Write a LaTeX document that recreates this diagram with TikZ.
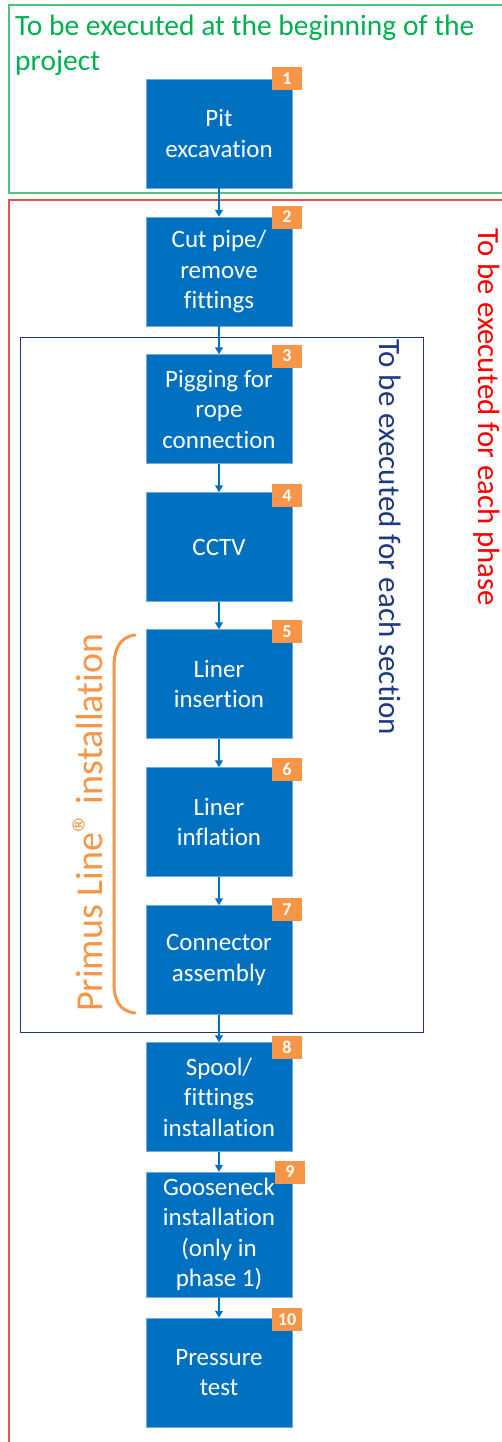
\documentclass[tikz,border=0pt]{standalone}
\usepackage{fontspec}
\setmainfont{Carlito}[Ligatures=NoCommon]
\usetikzlibrary{arrows.meta,positioning}
\definecolor{boxblue}{RGB}{0,112,192}
\definecolor{badgeor}{RGB}{247,150,70}
\definecolor{grn}{RGB}{0,176,80}
\definecolor{grnline}{RGB}{80,196,120}
\definecolor{redline}{RGB}{240,80,80}
\definecolor{navy}{RGB}{31,56,130}
\definecolor{orng}{RGB}{247,150,70}
\tikzset{
  stepbox/.style={fill=boxblue, draw={rgb,255:red,110;green,170;blue,225}, line width=0.5pt,
    minimum width=146pt, minimum height=109pt, inner sep=0pt, text=white, align=center,
    font=\fontsize{25}{30.5}\selectfont},
  badge/.style={fill=badgeor, minimum width=30pt, minimum height=23pt, inner sep=0pt,
    text=white, font=\fontsize{18}{18}\selectfont\bfseries},
  flow/.style={draw=boxblue, line width=1.3pt, -{Triangle[width=8pt,length=7pt]}},
}
\begin{document}
\begin{tikzpicture}[x=1pt,y=-1pt]
\useasboundingbox (0,0) rectangle (502,1442);
\clip (0,0) rectangle (502,1442);
% frames
\draw[grnline, line width=1.2pt] (9,5) rectangle (530,193);
\draw[redline, line width=1.2pt] (9,200) rectangle (530,1470);
\draw[navy, line width=1pt] (20,337) rectangle (423,1032);
% titles
\node[anchor=base west, inner sep=0pt, text=grn, font=\fontsize{29.5}{35}\selectfont] (t1) at (15,36) {To be executed at the beginning of the};
\node[anchor=base west, inner sep=0pt, text=grn, font=\fontsize{29.5}{35}\selectfont] (t2) at (15,71) {project};
\node[anchor=base west, inner sep=0pt, rotate=-90, text=red, font=\fontsize{30.8}{36}\selectfont] (tr) at (478,228) {To be executed for each phase};
\node[anchor=base west, inner sep=0pt, rotate=-90, text=navy, font=\fontsize{31}{36}\selectfont] (tb) at (379,339) {To be executed for each section};
\node[anchor=base west, inner sep=0pt, rotate=90, text=orng, font=\fontsize{38}{44}\selectfont] (to) at (102,1012) {Primus Line\raisebox{0.05em}{\fontsize{40}{40}\selectfont ®} installation};
% brace
\draw[orng, line width=3pt, line cap=round] (135,635) .. controls (119,637) and (114,650) .. (114,668) -- (114,982) .. controls (114,1000) and (119,1011) .. (135,1013);
% steps
\node[stepbox] (s1) at (219,133.5) {Pit\\excavation};
\node[stepbox] (s2) at (219,271.5) {Cut pipe/\\remove\\fittings};
\node[stepbox] (s3) at (219,409) {Pigging for\\rope\\connection};
\node[stepbox] (s4) at (219,547) {CCTV};
\node[stepbox] (s5) at (219,684) {Liner\\insertion};
\node[stepbox] (s6) at (219,822) {Liner\\inflation};
\node[stepbox] (s7) at (219,960) {Connector\\assembly};
\node[stepbox] (s8) at (219,1097) {Spool/\\fittings\\installation};
\node[stepbox, minimum height=125pt] (s9) at (219,1234.5) {Gooseneck\\installation\\(only in\\phase 1)};
\node[stepbox] (s10) at (219,1372.5) {Pressure\\test};
% badges
\node[badge] (b1) at (287,78.5) {1};
\node[badge] (b2) at (287,217) {2};
\node[badge] (b3) at (287,356) {3};
\node[badge] (b4) at (287,495.5) {4};
\node[badge] (b5) at (287,631.5) {5};
\node[badge] (b6) at (287,769.5) {6};
\node[badge] (b7) at (287,909.5) {7};
\node[badge] (b8) at (287,1047) {8};
\node[badge] (b9) at (290,1172) {9};
\node[badge] (b10) at (287,1319.5) {10};
% arrows
\draw[flow] (s1) -- (s2);
\draw[flow] (s2) -- (s3);
\draw[flow] (s3) -- (s4);
\draw[flow] (s4) -- (s5);
\draw[flow] (s5) -- (s6);
\draw[flow] (s6) -- (s7);
\draw[flow] (s7) -- (s8);
\draw[flow] (s8) -- (s9);
\draw[flow] (s9) -- (s10);
\end{tikzpicture}
\end{document}
